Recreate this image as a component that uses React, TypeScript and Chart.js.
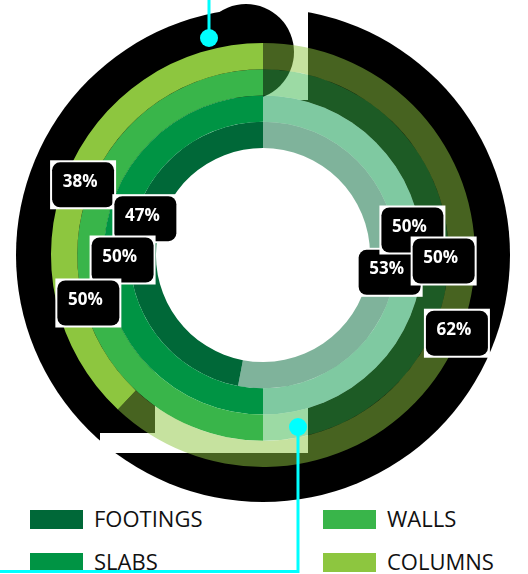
import React, { useEffect, useRef } from "react";
import { Chart, registerables } from "chart.js";

Chart.register(...registerables);

// ---- data ----
const categories = ["FOOTINGS", "SLABS", "WALLS", "COLUMNS"];
const donePct = [47, 50, 50, 38];
const restPct = [53, 50, 50, 62];
const colors = ["#006838", "#009444", "#39b54a", "#8dc63f"];

// ring order, outer to inner
const ringOrder = [3, 2, 1, 0];
// label nudges from each arc centre: [rest, done]
const labelNudge: Record<number, [number, number][]> = {
  3: [[9, 5], [5, 3]],
  2: [[8, 6], [-2, 48]],
  1: [[3, -25], [6, 5]],
  0: [[7, 6], [2, -25]],
};
// drawing order of labels: [category, index]
const labelOrder: [number, number][] = [
  [3, 1], [0, 1], [1, 1], [2, 1],
  [0, 0], [1, 0], [2, 0], [3, 0],
];

function hexA(hex: string, a: number) {
  const n = parseInt(hex.slice(1), 16);
  return `rgba(${(n >> 16) & 255},${(n >> 8) & 255},${n & 255},${a})`;
}

const W = 528;
const H = 574;

const backdrop = {
  id: "backdrop",
  beforeDatasetsDraw(chart: any) {
    const ctx = chart.ctx;
    const m0 = chart.getDatasetMeta(0).data[0];
    const m1 = chart.getDatasetMeta(1).data[0];
    const cx = m0.x, cy = m0.y, R = m0.outerRadius;
    ctx.save();
    ctx.fillStyle = "#000";
    ctx.beginPath();
    ctx.arc(cx, cy, R + 35, 0, Math.PI * 2);
    ctx.fill();
    ctx.fillStyle = "#fff";
    ctx.beginPath();
    ctx.arc(cx, cy, m1.innerRadius, 0, Math.PI * 2);
    ctx.fill();
    ctx.fillRect(cx, 0, 45, cy - 155);
    ctx.fillStyle = "#000";
    ctx.beginPath();
    ctx.arc(cx - 17, cy - 203, 48, 0, Math.PI * 2);
    ctx.fill();
    ctx.fillStyle = "#fff";
    ctx.fillRect(cx - 108, cy + 115, 153, 83);
    ctx.fillRect(cx - 163, cy + 178, 208, 20);
    ctx.restore();
  },
};

const overlay = {
  id: "overlay",
  afterDraw(chart: any) {
    const ctx = chart.ctx;
    const m0 = chart.getDatasetMeta(0).data[0];
    const cx = m0.x, cy = m0.y;
    ctx.save();
    // labels
    labelOrder.forEach(([cat, idx]) => {
      const ring = ringOrder.indexOf(cat);
      const arc = chart.getDatasetMeta(ring).data[idx];
      const p = arc.getCenterPoint();
      const [dx, dy] = labelNudge[cat][idx];
      const bx = p.x + dx, by = p.y + dy;
      const bw = 66, bh = 49;
      ctx.fillStyle = "#fff";
      ctx.fillRect(bx - bw / 2, by - bh / 2, bw, bh);
      ctx.fillStyle = "#000";
      ctx.beginPath();
      ctx.roundRect(bx - bw / 2 + 2, by - bh / 2 + 2, bw - 4, bh - 4, 8);
      ctx.fill();
      ctx.fillStyle = "#fff";
      ctx.font = "bold 17px 'Open Sans'";
      ctx.textAlign = "center";
      ctx.textBaseline = "middle";
      const v = chart.data.datasets[ring].data[idx];
      ctx.fillText(`${v}%`, bx - 3, by - 3);
    });
    // cyan leader lines
    ctx.strokeStyle = "#00ffff";
    ctx.fillStyle = "#00ffff";
    ctx.lineWidth = 3;
    ctx.beginPath();
    ctx.moveTo(cx - 54, 0);
    ctx.lineTo(cx - 54, cy - 217);
    ctx.stroke();
    ctx.beginPath();
    ctx.arc(cx - 54, cy - 217, 9, 0, Math.PI * 2);
    ctx.fill();
    ctx.beginPath();
    ctx.moveTo(cx + 35, cy + 172);
    ctx.lineTo(cx + 35, H - 2.5);
    ctx.lineTo(0, H - 2.5);
    ctx.stroke();
    ctx.beginPath();
    ctx.arc(cx + 35, cy + 172, 9, 0, Math.PI * 2);
    ctx.fill();
    ctx.restore();
  },
};

const legendPos = [
  { x: 30, y: 510, tx: 94, ty: 526 },
  { x: 30, y: 553, tx: 94, ty: 569 },
  { x: 323, y: 510, tx: 387, ty: 526 },
  { x: 323, y: 553, tx: 387, ty: 569 },
];

export default function App() {
  const ref = useRef<HTMLCanvasElement>(null);
  useEffect(() => {
    const chart = new Chart(ref.current!, {
      type: "doughnut",
      data: {
        labels: ["rest", "done"],
        datasets: ringOrder.map((c) => ({
          label: categories[c],
          data: [restPct[c], donePct[c]],
          backgroundColor: [hexA(colors[c], 0.5), colors[c]],
          borderWidth: 0,
          hoverOffset: 0,
        })),
      },
      options: {
        animation: false,
        responsive: true,
        maintainAspectRatio: false,
        cutout: "50.5%",
        layout: { padding: { left: 51, top: 43, right: 53, bottom: 107 } },
        plugins: { legend: { display: false }, tooltip: { enabled: false } },
        events: [],
      },
      plugins: [backdrop, overlay],
    });
    return () => chart.destroy();
  }, []);

  return (
    <div style={{ position: "fixed", left: 0, top: 0, width: W, height: H, background: "#fff", overflow: "hidden" }}>
      {categories.map((c, i) => (
        <React.Fragment key={c}>
          <div style={{ position: "absolute", left: legendPos[i].x, top: legendPos[i].y, width: 53, height: 19, background: colors[i] }} />
          <div
            style={{
              position: "absolute",
              left: legendPos[i].tx,
              top: legendPos[i].ty - 19.5,
              font: "22px 'Open Sans'",
              lineHeight: "22px",
              color: "#111",
              whiteSpace: "nowrap",
            }}
          >
            {c}
          </div>
        </React.Fragment>
      ))}
      <div style={{ position: "absolute", left: 0, top: 0, width: W, height: H }}>
        <canvas ref={ref} />
      </div>
    </div>
  );
}
